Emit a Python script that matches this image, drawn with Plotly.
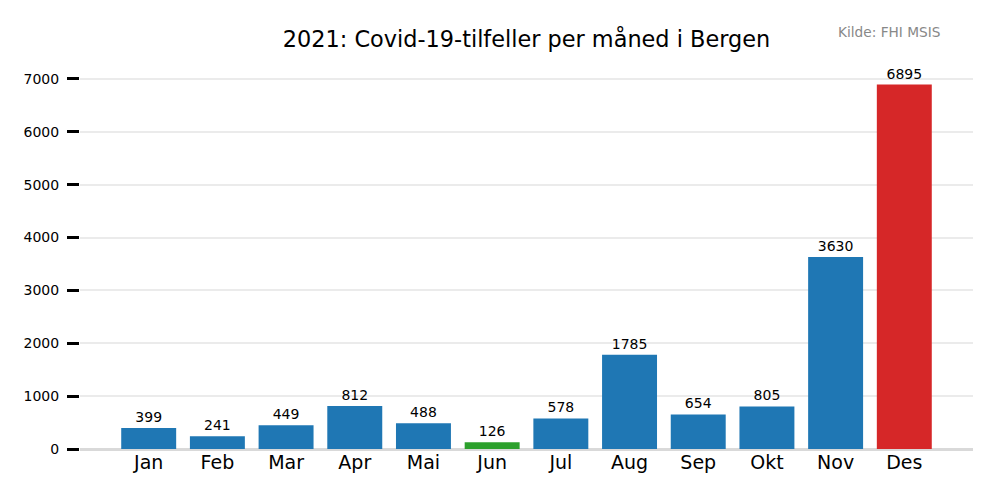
import plotly.graph_objects as go

months = ["Jan", "Feb", "Mar", "Apr", "Mai", "Jun", "Jul", "Aug", "Sep", "Okt", "Nov", "Des"]
cases = [399, 241, 449, 812, 488, 126, 578, 1785, 654, 805, 3630, 6895]
yticks = [0, 1000, 2000, 3000, 4000, 5000, 6000, 7000]

blue, green, red = "#1f77b4", "#2ca02c", "#d62728"
lo, hi = min(cases), max(cases)
colors = [red if v == hi else green if v == lo else blue for v in cases]

font = "DejaVu Sans"
fig = go.Figure(go.Bar(
    x=list(range(len(months))), y=cases, marker=dict(color=colors, line=dict(width=0)), width=0.8,
    text=[str(v) for v in cases], textposition="outside",
    textfont=dict(family=font, size=14, color="black"), cliponaxis=False,
))
fig.update_layout(
    width=1000, height=500, margin=dict(l=72, r=35, t=58, b=59),
    plot_bgcolor="white", paper_bgcolor="white", showlegend=False,
    font=dict(family=font, color="black"),
    title=dict(text="2021: Covid-19-tilfeller per måned i Bergen", x=0.5185, xanchor="center",
               y=0.938, yanchor="middle", font=dict(family=font, size=22.4, color="black")),
    annotations=[dict(text="Kilde: FHI MSIS", xref="paper", yref="paper", x=0.9655, y=1.089,
                      xanchor="right", yanchor="middle", showarrow=False,
                      font=dict(family=font, size=13.7, color="#888888"))],
)
fig.update_xaxes(range=[-1, 12], tickmode="array", tickvals=list(range(len(months))), ticktext=months,
                 tickfont=dict(family=font, size=19), showgrid=False, zeroline=False,
                 showline=False, ticks="", ticklabelstandoff=0)
fig.update_yaxes(range=[0, 7245], tickvals=yticks, tickfont=dict(family=font, size=14),
                 showgrid=True, gridcolor="#ebebeb", gridwidth=2, ticks="outside", ticklen=12,
                 tickwidth=3, tickcolor="black", zeroline=True, zerolinecolor="#d9d9d9",
                 zerolinewidth=3, showline=False, ticklabelstandoff=5)
fig.write_html("out.html")
